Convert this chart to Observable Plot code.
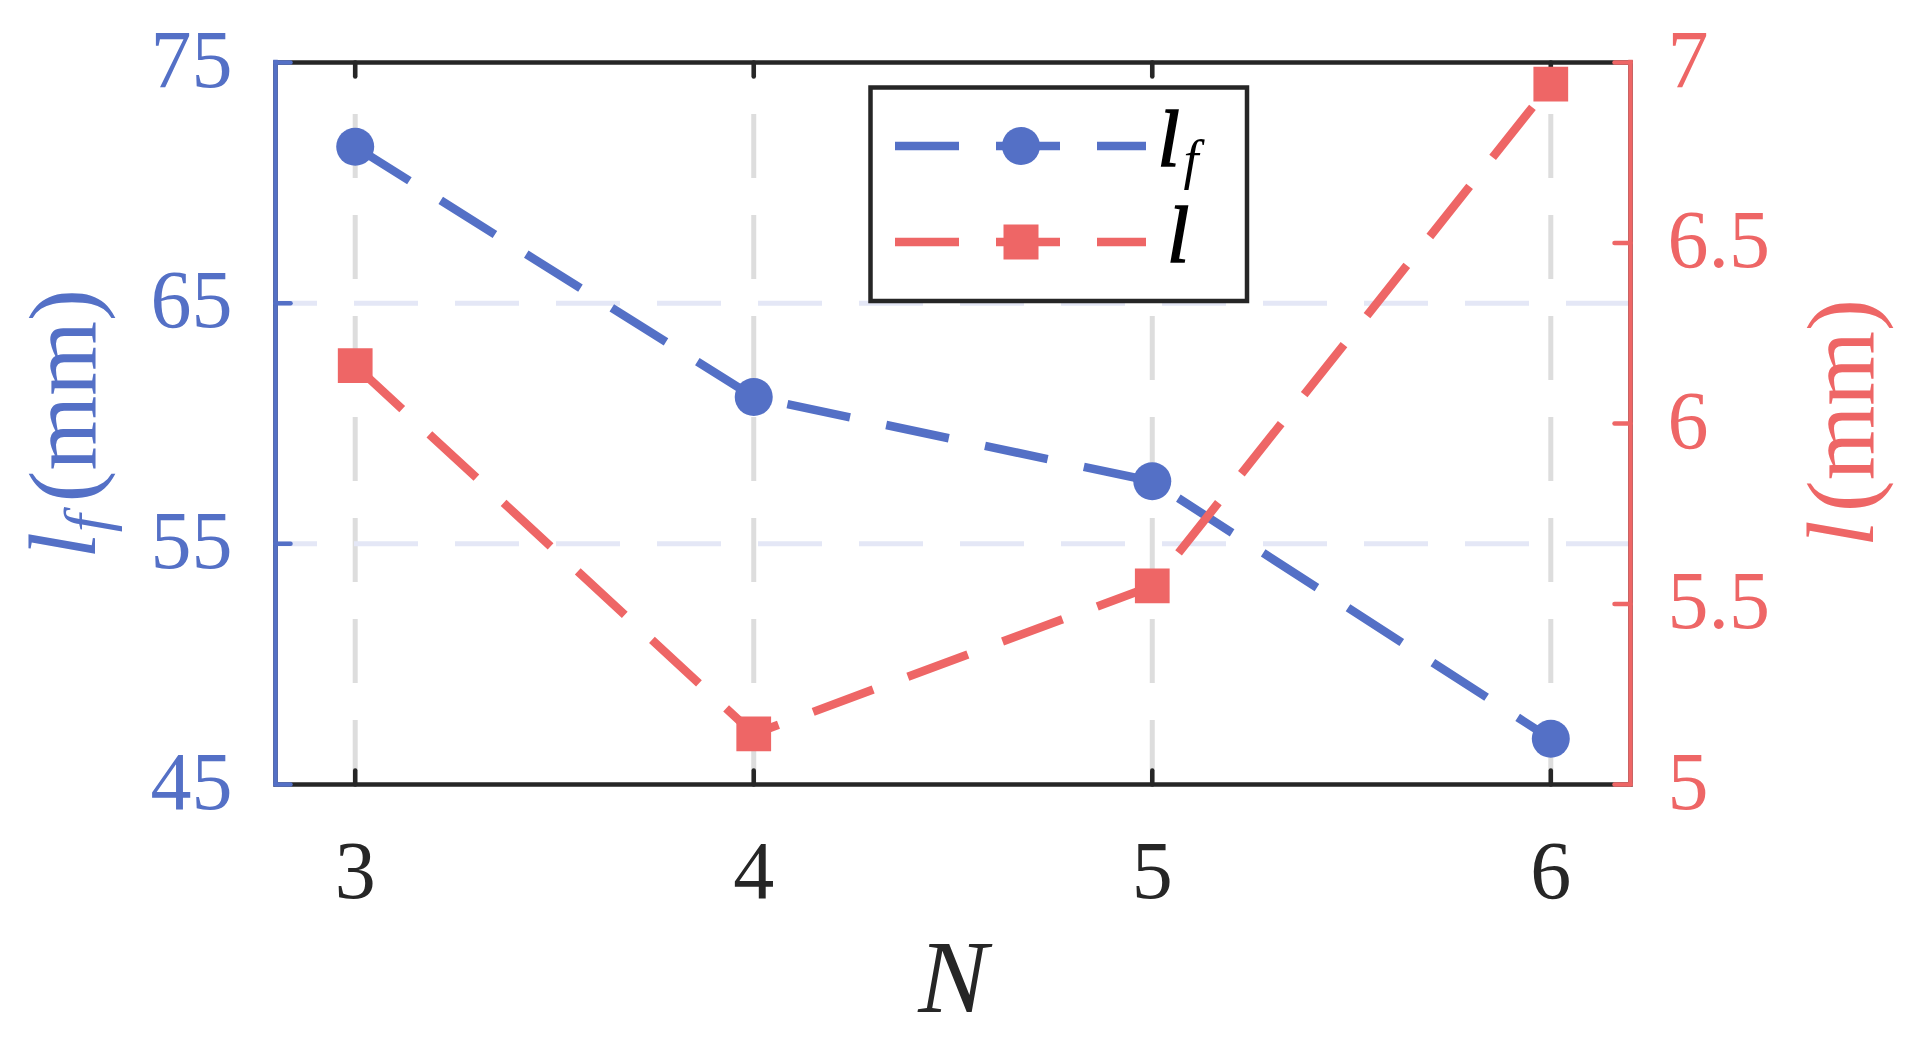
<!DOCTYPE html>
<html><head><meta charset="utf-8">
<script src="https://cdn.jsdelivr.net/npm/d3@7"></script>
<script src="https://cdn.jsdelivr.net/npm/@observablehq/plot@0.6"></script>
<style>
html,body{margin:0;padding:0;background:#fff;}
#chart{position:relative;width:1920px;height:1038px;}
</style></head><body><div id="chart"></div>
<script>
// ---- data ----
const N = [3, 4, 5, 6];
const lfValues = [71.5, 61.1, 57.6, 46.9];   // l_f (mm), left axis
const lValues = [6.16, 5.14, 5.55, 6.94];    // l (mm), right axis
const xTicks = [3, 4, 5, 6];
const leftTicks = [45, 55, 65, 75];
const rightTicks = [5, 5.5, 6, 6.5, 7];
const gridY = [55, 65];
const xDomain = [2.8, 6.2];
const leftDomain = [45, 75];
const rightDomain = [5, 7];

const BLUE = "#5470c6", RED = "#ee6666", INK = "#262626";
const FONT = "'Liberation Serif', 'Times New Roman', serif";

const toLeft = v => leftDomain[0] + (v - rightDomain[0]) * (leftDomain[1] - leftDomain[0]) / (rightDomain[1] - rightDomain[0]);
const fromLeft = v => rightDomain[0] + (v - leftDomain[0]) * (rightDomain[1] - rightDomain[0]) / (leftDomain[1] - leftDomain[0]);

const data = N.map((n, i) => ({N: n, lf: lfValues[i], l: lValues[i], lMapped: toLeft(lValues[i])}));
const DASH = "64,37";

// inward tick shapes for Plot.vector
const shapeRight = {draw(c, l) { c.moveTo(0, 0); c.lineTo(l, 0); }};
const shapeLeft = {draw(c, l) { c.moveTo(0, 0); c.lineTo(-l, 0); }};
const shapeUp = {draw(c, l) { c.moveTo(0, 0); c.lineTo(0, -l); }};
const shapeDown = {draw(c, l) { c.moveTo(0, 0); c.lineTo(0, l); }};

const plot = Plot.plot({
  width: 1920,
  height: 1038,
  marginLeft: 275,
  marginRight: 290,
  marginTop: 62,
  marginBottom: 254,
  style: {fontFamily: FONT, background: "white", overflow: "visible"},
  x: {domain: xDomain},
  y: {domain: leftDomain},
  marks: [
    // grids
    Plot.ruleX(xTicks, {y1: leftDomain[0], y2: leftDomain[1], stroke: "#dddddd", strokeWidth: 5, strokeDasharray: DASH}),
    Plot.ruleY(gridY, {x1: xDomain[1], x2: xDomain[0], stroke: "#e4e7f6", strokeWidth: 5, strokeDasharray: DASH}),
    // frame
    Plot.frame({stroke: INK, strokeWidth: 4.5}),
    // x axis labels
    Plot.axisX({anchor: "bottom", ticks: xTicks, tickSize: 0, tickPadding: 55, fontSize: 82, color: INK, label: null, tickFormat: d => String(d)}),
    // x ticks (inward, bottom and top)
    Plot.vector(xTicks, {x: d => d, y: leftDomain[0], length: 14, anchor: "start", shape: shapeUp, stroke: INK, strokeWidth: 4.5}),
    Plot.vector(xTicks, {x: d => d, y: leftDomain[1], length: 14, anchor: "start", shape: shapeDown, stroke: INK, strokeWidth: 4.5}),
    // left axis
    Plot.ruleX([xDomain[0]], {y1: leftDomain[0], y2: leftDomain[1], stroke: BLUE, strokeWidth: 4.5, strokeLinecap: "square"}),
    Plot.vector(leftTicks, {x: xDomain[0], y: d => d, length: 15, anchor: "start", shape: shapeRight, stroke: BLUE, strokeWidth: 4.5}),
    Plot.axisY({anchor: "left", ticks: leftTicks, tickSize: 0, tickPadding: 43, fontSize: 82, color: BLUE, label: null, dy: -2, tickFormat: d => String(d)}),
    // right axis
    Plot.ruleX([xDomain[1]], {y1: leftDomain[0], y2: leftDomain[1], stroke: RED, strokeWidth: 4.5, strokeLinecap: "square"}),
    Plot.vector(rightTicks, {x: xDomain[1], y: d => toLeft(d), length: 16, anchor: "start", shape: shapeLeft, stroke: RED, strokeWidth: 4.5}),
    Plot.axisY({anchor: "right", ticks: rightTicks.map(toLeft), tickSize: 0, tickPadding: 37, fontSize: 82, color: RED, label: null, dy: -2, tickFormat: d => String(+fromLeft(d).toFixed(2))}),
    // series l_f
    Plot.line(data, {x: "N", y: "lf", stroke: BLUE, strokeWidth: 8.5, strokeDasharray: DASH, strokeLinecap: "butt", strokeLinejoin: "miter"}),
    Plot.dot(data, {x: "N", y: "lf", r: 19, fill: BLUE, stroke: "none"}),
    // series l
    Plot.line(data, {x: "N", y: "lMapped", stroke: RED, strokeWidth: 8.5, strokeDasharray: DASH, strokeLinecap: "butt", strokeLinejoin: "miter"}),
    Plot.dot(data, {x: "N", y: "lMapped", symbol: "square", r: 19.6, fill: RED, stroke: "none"})
  ]
});

document.getElementById("chart").appendChild(plot);
const svg = d3.select(plot);

// ---- axis titles ----
function rotTitle(x, y, color, base, sub) {
  const t = svg.append("text")
    .attr("transform", `translate(${x},${y}) rotate(-90)`)
    .attr("text-anchor", "middle")
    .attr("font-family", FONT)
    .attr("font-size", 96)
    .attr("fill", color);
  t.append("tspan").attr("font-style", "italic").text(base);
  if (sub) {
    t.append("tspan").attr("font-style", "italic").attr("font-size", 64).attr("dy", 13).text(sub);
    t.append("tspan").attr("dy", -13).attr("dx", 12).text("(mm)");
  } else {
    t.append("tspan").attr("dx", 8).text("(mm)");
  }
}
rotTitle(95, 424, BLUE, "l", "f");
rotTitle(1873, 423, RED, "l", null);

svg.append("text")
  .attr("x", 953).attr("y", 1012)
  .attr("text-anchor", "middle")
  .attr("font-family", FONT)
  .attr("font-size", 104)
  .attr("font-style", "italic")
  .attr("fill", INK)
  .text("N");

// ---- legend ----
const lg = svg.append("g");
lg.append("rect").attr("x", 870.5).attr("y", 87.5).attr("width", 376.5).attr("height", 213.5)
  .attr("fill", "white").attr("stroke", INK).attr("stroke-width", 4.5);
const rows = [
  {y: 146, color: BLUE, sym: "circle", base: "l", sub: "f"},
  {y: 242, color: RED, sym: "square", base: "l", sub: null}
];
rows.forEach(r => {
  lg.append("line").attr("x1", 895).attr("x2", 1146).attr("y1", r.y).attr("y2", r.y)
    .attr("stroke", r.color).attr("stroke-width", 8.5).attr("stroke-dasharray", DASH);
  if (r.sym === "circle") {
    lg.append("circle").attr("cx", 1021).attr("cy", r.y).attr("r", 19).attr("fill", r.color);
  } else {
    lg.append("rect").attr("x", 1021 - 17.5).attr("y", r.y - 17.5).attr("width", 35).attr("height", 35).attr("fill", r.color);
  }
  const t = lg.append("text").attr("x", 1178).attr("y", r.y + 20)
    .attr("font-family", FONT).attr("font-size", 80).attr("font-style", "italic").attr("fill", "#000");
  t.append("tspan").attr("stroke", "#000").attr("stroke-width", 1.6).text(r.base);
  if (r.sub) t.append("tspan").attr("font-size", 54).attr("dx", 4).attr("dy", 12).text(r.sub);
});
</script>
</body></html>
